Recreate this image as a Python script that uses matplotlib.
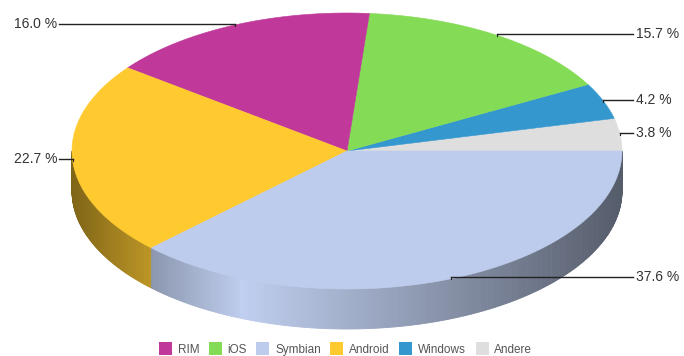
import numpy as np
import matplotlib
matplotlib.use("Agg")
import matplotlib.pyplot as plt
from matplotlib.patches import Polygon, Patch
from matplotlib.colors import to_rgb

# ---- data ----
categories = ["RIM", "iOS", "Symbian", "Android", "Windows", "Andere"]
shares = [16.0, 15.7, 37.6, 22.7, 4.2, 3.8]
colors = ["#C0399A", "#84DB55", "#BDCCEC", "#FFCA30", "#3498CF", "#DEDEDE"]
label_texts = ["16.0 %", "15.7 %", "37.6 %", "22.7 %", "4.2 %", "3.8 %"]
# order of slices counterclockwise starting at 3 o'clock
draw_order = ["Andere", "Windows", "iOS", "RIM", "Android", "Symbian"]

plt.rcParams['font.family'] = ['Liberation Sans', 'DejaVu Sans']

W, H = 684, 356
fig = plt.figure(figsize=(W / 100, H / 100), dpi=100)
ax = fig.add_axes([0, 0, 1, 1])
ax.set_xlim(0, W)
ax.set_ylim(H, 0)
ax.axis('off')

cx, cy, rx, ry, depth = 347, 151, 275, 138, 40


def pt(theta):
    t = np.radians(theta)
    return cx + rx * np.cos(t), cy - ry * np.sin(t)


def shade(x):
    # horizontal lighting on the side wall
    if x <= 240:
        return 0.5 + 0.5 * (x - 72) / (240 - 72)
    return 1.02 - 0.57 * (x - 240) / (622 - 240)


total = sum(shares)
start = 0.0
spans = {}
for name in draw_order:
    i = categories.index(name)
    ext = shares[i] / total * 360.0
    spans[name] = (start, start + ext)
    start += ext

# side walls (front half only)
for name in draw_order:
    i = categories.index(name)
    a0, a1 = spans[name]
    lo, hi = max(a0, 180.0), min(a1, 360.0)
    if hi <= lo:
        continue
    base = np.array(to_rgb(colors[i]))
    steps = np.arange(lo, hi, 0.5)
    steps = np.append(steps, hi)
    for t1, t2 in zip(steps[:-1], steps[1:]):
        x1, y1 = pt(t1)
        x2, y2 = pt(t2)
        f = shade((x1 + x2) / 2)
        c = np.clip(base * f, 0, 1)
        ax.add_patch(Polygon([(x1, y1), (x2, y2), (x2, y2 + depth), (x1, y1 + depth)],
                             closed=True, facecolor=c, edgecolor=c, linewidth=0.6))

# top faces
for name in draw_order:
    i = categories.index(name)
    a0, a1 = spans[name]
    th = np.linspace(a0, a1, 200)
    xs, ys = pt(th)
    verts = [(cx, cy)] + list(zip(xs, ys))
    ax.add_patch(Polygon(verts, closed=True, facecolor=colors[i], edgecolor=colors[i],
                         linewidth=0.4))

# labels with leader lines
for name in draw_order:
    i = categories.index(name)
    a0, a1 = spans[name]
    m = (a0 + a1) / 2
    px, py = pt(m)
    ly = py - 1.5
    if np.cos(np.radians(m)) >= 0:
        ax.plot([px, 633], [ly, ly], color='#222222', lw=1.0)
        ax.text(636, ly, label_texts[i], ha='left', va='center', fontsize=10, color='#333333')
    else:
        ax.plot([59, px], [ly, ly], color='#222222', lw=1.0)
        ax.text(57, ly, label_texts[i], ha='right', va='center', fontsize=10, color='#333333')
    ax.plot([px, px], [ly, ly + 2], color='#222222', lw=0.8)

handles = [Patch(facecolor=c, edgecolor='none') for c in colors]
fig.legend(handles, categories, loc='center', bbox_to_anchor=(345.5 / W, 1 - 349 / H),
           ncol=6, frameon=False, fontsize=8.5, handlelength=1.1, handleheight=1.2,
           handletextpad=0.5, columnspacing=0.8, labelcolor='#555555', borderpad=0)

fig.savefig("out.png", dpi=100)
